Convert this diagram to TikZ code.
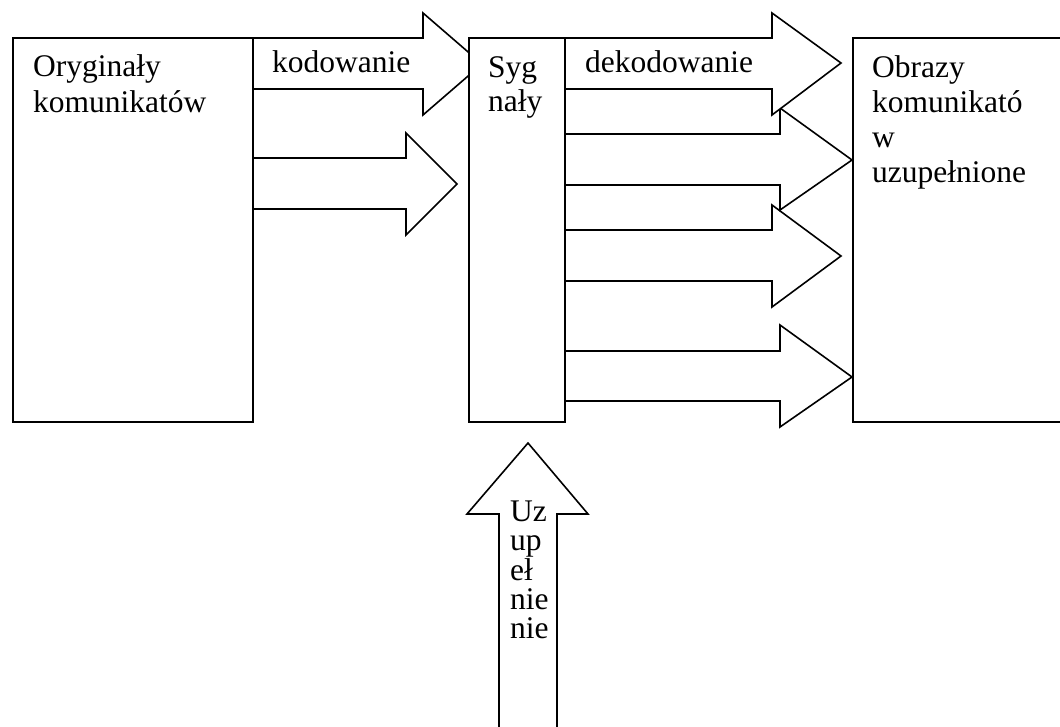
\documentclass[tikz,border=0pt]{standalone}
\usepackage{fontspec}
\setmainfont{Liberation Serif}
\begin{document}
\begin{tikzpicture}[x=1pt,y=-1pt,
  box/.style={draw=black,fill=white,line width=2.2pt,inner sep=0pt,anchor=north west},
  blockarrow/.style={draw=black,fill=white,line width=1.6pt,line join=miter},
  lbl/.style={anchor=base west,inner sep=0pt,font=\fontsize{31.5}{36}\selectfont}]
\useasboundingbox (0,0) rectangle (1060,727);
\clip (0,0) rectangle (1060,727);
% block arrows (drawn below the boxes)
\draw[blockarrow] (252,38) -- (423,38) -- (423,13) -- (482,64) -- (423,115) -- (423,89) -- (252,89);
\draw[blockarrow] (252,158) -- (406,158) -- (406,133) -- (457,184) -- (406,235) -- (406,209) -- (252,209);
\draw[blockarrow] (564,351) -- (780,351) -- (780,325) -- (852,377) -- (780,427) -- (780,401) -- (564,401);
\draw[blockarrow] (564,230) -- (772,230) -- (772,205) -- (841,256) -- (772,307) -- (772,281) -- (564,281);
\draw[blockarrow] (564,134) -- (780,134) -- (780,108) -- (852,160) -- (780,210) -- (780,185) -- (564,185);
\draw[blockarrow] (564,38) -- (772,38) -- (772,13) -- (841,63) -- (772,115) -- (772,89) -- (564,89);
\draw[blockarrow] (499,760) -- (499,514) -- (467,514) -- (528,443) -- (588,514) -- (557,514) -- (557,760);
% boxes
\node[box,minimum width=240pt,minimum height=384pt] (orig) at (12,37) {};
\node[box,minimum width=96pt,minimum height=384pt] (syg) at (468,37) {};
\node[box,minimum width=230pt,minimum height=384pt] (obr) at (852,37) {};
% texts
\node[lbl] (t1a) at (33,77) {Oryginały};
\node[lbl] (t1b) at (33,113) {komunikatów};
\node[lbl] (tk) at (272,73) {kodowanie};
\node[lbl] (t2a) at (488,78) {Syg};
\node[lbl] (t2b) at (488,112) {nały};
\node[lbl] (td) at (585,73) {dekodowanie};
\node[lbl] (t3a) at (872,78) {Obrazy};
\node[lbl] (t3b) at (872,113) {komunikató};
\node[lbl] (t3c) at (872,148) {w};
\node[lbl] (t3d) at (872,183) {uzupełnione};
\node[lbl] (u1) at (510,521) {Uz};
\node[lbl] (u2) at (510,550) {up};
\node[lbl] (u3) at (510,580) {eł};
\node[lbl] (u4) at (510,609) {nie};
\node[lbl] (u5) at (510,638) {nie};
\end{tikzpicture}
\end{document}
